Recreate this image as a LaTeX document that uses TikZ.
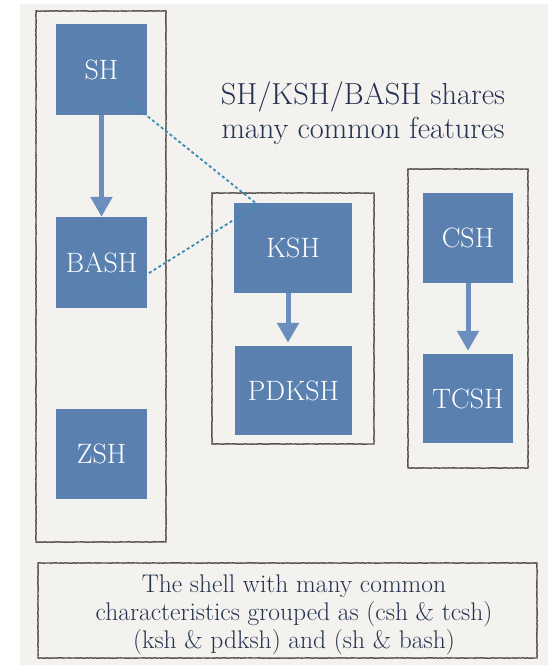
\documentclass[tikz,border=0pt]{standalone}
\usepackage{fontspec}
\setmainfont{Latin Modern Roman}
\usetikzlibrary{arrows.meta,decorations.pathmorphing}
\definecolor{slidebg}{HTML}{F4F2EE}
\definecolor{shellfill}{HTML}{5A80B0}
\definecolor{arrowcol}{HTML}{6B8EBE}
\definecolor{linkcol}{HTML}{3A8CB5}
\definecolor{inkcol}{HTML}{243150}
\definecolor{framecol}{HTML}{55514D}
\begin{document}
\begin{tikzpicture}[x=1pt,y=-1pt,
  shellbox/.style={fill=shellfill,text=white,inner sep=0pt,
    font=\fontsize{28}{32}\selectfont},
  groupframe/.style={draw=framecol,line width=1.4pt,
    decorate,decoration={random steps,segment length=1.5pt,amplitude=0.22pt}},
  inherit/.style={draw=arrowcol,line width=5pt,
    -{Triangle[width=21pt,length=20pt]}},
  share/.style={draw=linkcol,line width=1.8pt,dash pattern=on 3pt off 2.6pt},
  caption/.style={text=inkcol,align=center,inner sep=0pt}]
\useasboundingbox (0,0) rectangle (548,665);
\fill[white] (0,0) rectangle (548,665);
\fill[slidebg] (20,4) rectangle (548,665);

% group frames
\draw[groupframe] (36,11) rectangle (166,542);
\draw[groupframe] (212,193) rectangle (374,444);
\draw[groupframe] (408,169) rectangle (528,468);
\draw[groupframe] (38,563) rectangle (537,658);

% shells
\node[shellbox,minimum width=91pt,minimum height=91pt] (sh)   at (101.5,69.5)  {SH};
\node[shellbox,minimum width=91pt,minimum height=91pt] (bash) at (101.5,262.5) {BASH};
\node[shellbox,minimum width=91pt,minimum height=90pt] (zsh)  at (101.5,454)   {ZSH};
\node[shellbox,minimum width=118pt,minimum height=90pt] (ksh) at (293,248)     {KSH};
\node[shellbox,minimum width=117pt,minimum height=89pt] (pdksh) at (293.5,390.5) {PDKSH};
\node[shellbox,minimum width=90pt,minimum height=90pt] (csh)  at (468,238)     {CSH};
\node[shellbox,minimum width=90pt,minimum height=89pt] (tcsh) at (468,398.5)   {TCSH};

% inheritance arrows
\draw[inherit] (sh.south) -- (bash.north);
\draw[inherit,shorten >=3pt] ([xshift=-5pt]ksh.south) -- ([xshift=-5.5pt]pdksh.north);
\draw[inherit,shorten >=3pt] (csh.south) -- (tcsh.north);

% shared-features links
\coordinate (shin)   at ([shift={(24.5,29.5)}]sh.center);
\coordinate (bashin) at ([shift={(28.5,22.5)}]bash.center);
\coordinate (meet)   at ([shift={(24,2)}]ksh.north west);
\draw[share] (shin) -- (meet);
\draw[share] (bashin) -- (meet);

% texts
\node[caption,font=\fontsize{30.4}{34}\selectfont] (title) at (363,113.5)
  {SH/KSH/BASH shares\\many common features};
\node[caption,font=\fontsize{25.5}{28}\selectfont] (note) at (294,614.5)
  {The shell with many common\\characteristics grouped as (csh \& tcsh)\\(ksh \& pdksh) and (sh \& bash)};
\end{tikzpicture}
\end{document}
